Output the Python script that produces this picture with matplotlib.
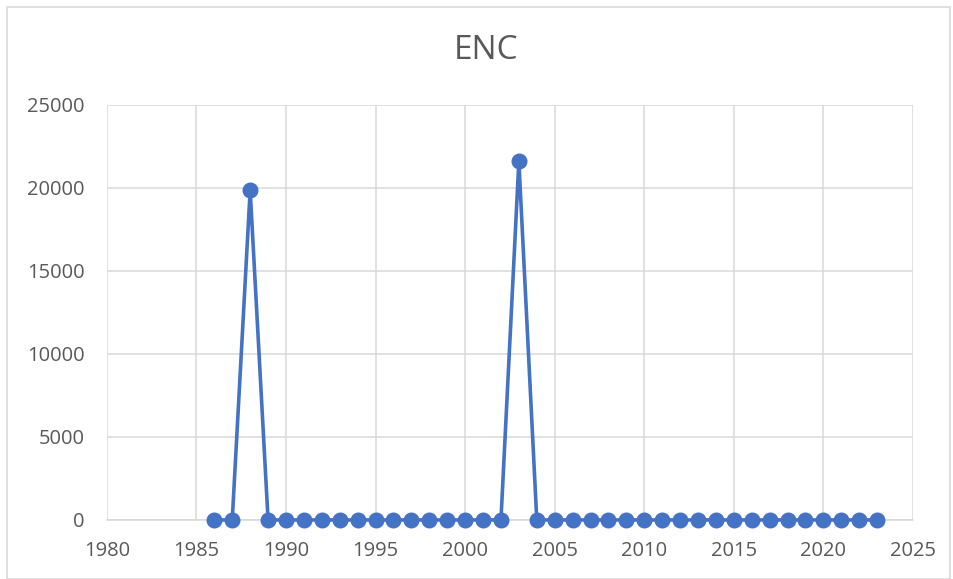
import matplotlib.pyplot as plt
from matplotlib.patches import Rectangle

# data
years = list(range(1986, 2024))
values = [0] * len(years)
values[years.index(1988)] = 19850
values[years.index(2003)] = 21600

xticks = [1980, 1985, 1990, 1995, 2000, 2005, 2010, 2015, 2020, 2025]
yticks = [0, 5000, 10000, 15000, 20000, 25000]

plt.rcParams['font.family'] = ['Open Sans', 'DejaVu Sans']

fig = plt.figure(figsize=(9.54, 5.79), dpi=100)
ax = fig.add_axes([0.112, 0.102, 0.845, 0.717])

ax.plot(years, values, color='#4472C4', linewidth=2.6, marker='o',
        markersize=10.5, zorder=3, clip_on=False)

ax.set_xlim(1980, 2025)
ax.set_ylim(0, 25000)
ax.set_xticks(xticks)
ax.set_yticks(yticks)
ax.grid(True, color='#D9D9D9', linewidth=1.1)
ax.set_axisbelow(True)
for s in ['top', 'right', 'left']:
    ax.spines[s].set_visible(False)
ax.spines['bottom'].set_color('#D9D9D9')
ax.spines['bottom'].set_linewidth(1.1)
ax.tick_params(length=0, labelsize=14.5, labelcolor='#595959')
ax.tick_params(axis='x', pad=15)
ax.tick_params(axis='y', pad=16)

fig.text(486 / 954, 0.913, 'ENC', ha='center', va='center', fontsize=24, color='#595959')

# chart border
fig.patches.append(Rectangle((7 / 954, 0), 943 / 954, 572 / 579, transform=fig.transFigure,
                             fill=False, edgecolor='#D9D9D9', linewidth=1.2))

fig.savefig('out.png', dpi=100)
